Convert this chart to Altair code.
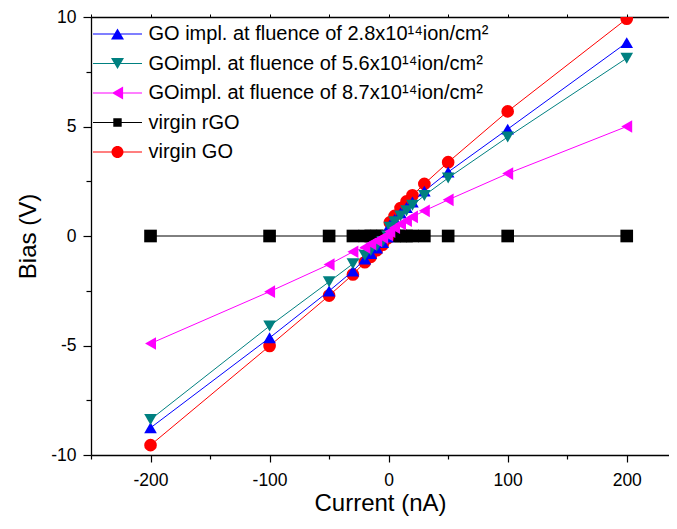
import altair as alt
import pandas as pd

# ---------------- data ----------------
current_go = [-200, -100, -50, -30, -20, -15, -10, -5, -1, 1, 5, 10, 15, 20, 30, 50, 100, 200]
bias_28 = [-8.76, -4.65, -2.51, -1.60, -1.05, -0.80, -0.55, -0.30, -0.05, 0.50, 0.75, 1.05, 1.30, 1.55, 2.05, 2.92, 4.88, 8.83]
bias_56 = [-8.38, -4.11, -2.09, -1.27, -0.88, -0.66, -0.46, -0.25, 0.00, 0.40, 0.65, 0.92, 1.15, 1.40, 1.85, 2.65, 4.52, 8.12]
bias_87 = [-4.91, -2.54, -1.30, -0.72, -0.52, -0.36, -0.22, -0.08, 0.05, 0.20, 0.38, 0.55, 0.70, 0.87, 1.15, 1.65, 2.85, 5.00]
bias_virgin_go = [-9.55, -5.02, -2.72, -1.76, -1.20, -0.95, -0.65, -0.40, -0.10, 0.62, 0.92, 1.28, 1.58, 1.86, 2.38, 3.37, 5.69, 9.92]
current_rgo = [-200, -100, -50, -30, -20, -15, -10, -5, 5, 10, 15, 20, 30, 50, 100, 200]
bias_rgo = [0, 0, 0, 0, 0, 0, 0, 0, 0, 0, 0, 0, 0, 0, 0, 0]

names = [
    "GO impl. at fluence of 2.8x10\u00b9\u2074ion/cm\u00b2",
    "GOimpl. at fluence of 5.6x10\u00b9\u2074ion/cm\u00b2",
    "GOimpl. at fluence of 8.7x10\u00b9\u2074ion/cm\u00b2",
    "virgin rGO",
    "virgin GO",
]
colors = ["#0000ff", "#008080", "#ff00ff", "#000000", "#ff0000"]
shapes = ["triangle-up", "triangle-down", "triangle-left", "square", "circle"]
sizes = [160, 160, 160, 64, 140]

x_ticks = [-250, -200, -150, -100, -50, 0, 50, 100, 150, 200]
y_ticks = [-10, -7.5, -5, -2.5, 0, 2.5, 5, 7.5, 10]

# legend symbols: thin bar (line) + marker, unit = 10 px (symbolSize 400)
bar = "M-2.45,-0.055 L2.45,-0.055 L2.45,0.055 L-2.45,0.055 Z "
legend_paths = [
    bar + "M0,-0.56 L0.65,0.56 L-0.65,0.56 Z",
    bar + "M0,0.56 L-0.65,-0.56 L0.65,-0.56 Z",
    bar + "M-0.56,0 L0.56,-0.65 L0.56,0.65 Z",
    bar + "M-0.42,-0.42 L0.42,-0.42 L0.42,0.42 L-0.42,0.42 Z",
    bar + "M-0.6,0 A0.6,0.6 0 1 1 0.6,0 A0.6,0.6 0 1 1 -0.6,0 Z",
]

# draw order: rGO, virgin GO, 2.8, 5.6, 8.7
order = [3, 4, 0, 1, 2]
series_x = [current_go, current_go, current_go, current_rgo, current_go]
series_y = [bias_28, bias_56, bias_87, bias_rgo, bias_virgin_go]
rows = []
for k in order:
    for xv, yv in zip(series_x[k], series_y[k]):
        rows.append({"current": xv, "bias": yv, "series": names[k], "ord": order.index(k)})
df = pd.DataFrame(rows)

FONT = "Liberation Sans"

xscale = alt.Scale(domain=[-250, 235.5], nice=False, zero=False)
yscale = alt.Scale(domain=[-10, 10], nice=False, zero=False)
cscale = alt.Scale(domain=names, range=colors)

x_axis = alt.Axis(
    values=x_ticks, grid=False, title="Current (nA)",
    labelExpr="datum.value % 100 === 0 ? '' + datum.value : ''",
    tickSize={"condition": {"test": "datum.value % 100 === 0", "value": 7}, "value": 4},
    labelPadding=9, labelFont=FONT, labelFontSize=17.5, labelColor="black",
    titleFont=FONT, titleFontSize=24, titleFontWeight="normal", titleColor="black",
    titlePadding=3, domainColor="black", domainWidth=1.3, tickColor="black", tickWidth=1.2,
    labelFlush=False, labelOverlap=False,
)
y_axis = alt.Axis(
    values=y_ticks, grid=False, title="Bias (V)",
    labelExpr="datum.value % 5 === 0 ? '' + datum.value : ''",
    tickSize={"condition": {"test": "datum.value % 5 === 0", "value": 8}, "value": 5},
    labelPadding=7, labelFont=FONT, labelFontSize=17.5, labelColor="black",
    titleFont=FONT, titleFontSize=24, titleFontWeight="normal", titleColor="black",
    titlePadding=10, domainColor="black", domainWidth=1.3, tickColor="black", tickWidth=1.2,
    labelFlush=False, labelOverlap=False,
)
top_axis = alt.Axis(
    orient="top", values=x_ticks, grid=False, title=None, labels=False,
    tickSize=3, domainColor="black", domainWidth=1.3, tickColor="black", tickWidth=1,
)

base = alt.Chart(df)

lines = base.mark_line(strokeWidth=1, clip=True).encode(
    x=alt.X("current:Q", scale=xscale, axis=x_axis),
    y=alt.Y("bias:Q", scale=yscale, axis=y_axis),
    color=alt.Color("series:N", scale=cscale, legend=None),
    order="current:Q",
)

points = base.mark_point(filled=True, opacity=1, strokeWidth=0, clip=True).encode(
    x=alt.X("current:Q", scale=xscale, axis=None),
    y=alt.Y("bias:Q", scale=yscale, axis=None),
    color=alt.Color("series:N", scale=cscale, legend=None),
    shape=alt.Shape("series:N", scale=alt.Scale(domain=names, range=shapes), legend=None),
    size=alt.Size("series:N", scale=alt.Scale(domain=names, range=sizes), legend=None),
    order="ord:Q",
)

leg = alt.Legend(
    title=None, orient="none", legendX=16.5, legendY=7, padding=0,
    labelFont=FONT, labelFontSize=20, labelColor="black", labelLimit=0,
    symbolSize=400, symbolStrokeWidth=0, symbolOpacity=1,
    labelOffset=21, rowPadding=9.5, labelBaseline="middle",
)
legend_layer = base.mark_point(filled=True, strokeWidth=0).encode(
    x=alt.X("current:Q", scale=xscale, axis=None),
    y=alt.Y("bias:Q", scale=yscale, axis=None),
    color=alt.Color("series:N", scale=cscale, legend=leg, sort=names),
    shape=alt.Shape("series:N", scale=alt.Scale(domain=names, range=legend_paths), legend=leg, sort=names),
).transform_filter("false")

top_layer = base.mark_point(opacity=0).encode(
    x=alt.X("current:Q", scale=xscale, axis=top_axis),
    y=alt.Y("bias:Q", scale=yscale, axis=None),
).transform_filter("false")

chart = alt.layer(lines, points, legend_layer, top_layer).resolve_scale(
    color="independent", shape="independent"
).resolve_axis(x="independent", y="independent").properties(
    width=578, height=438,
    autosize=alt.AutoSizeParams(type="none"),
    padding={"left": 83, "top": 9, "right": 0, "bottom": 66},
    background="white",
).configure_view(stroke=None)

chart.save("out.html", embed_options={"renderer": "svg", "actions": False})
